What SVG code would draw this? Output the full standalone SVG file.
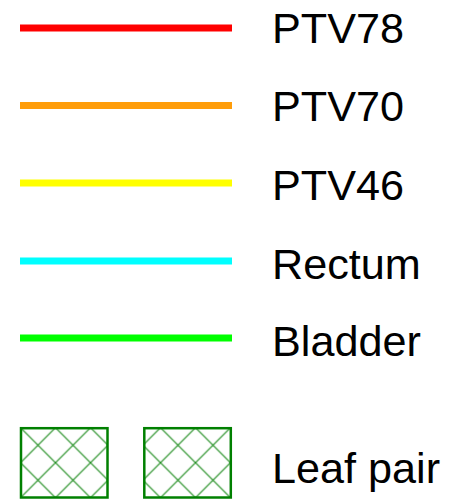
<svg xmlns="http://www.w3.org/2000/svg" width="465" height="499" viewBox="0 0 465 499">
<style>
text{font-family:"Liberation Sans",Arial,sans-serif;font-size:43.2px;fill:#000}
.ln{stroke-width:7;fill:none}
.box{fill:url(#hatch);stroke:#008000;stroke-width:2.5}
</style>
<defs>
<pattern id="hatch" patternUnits="userSpaceOnUse" x="20.5" y="427.7" width="35" height="35">
<path d="M0 0L35 35M35 0L0 35M-5 30L5 40M30 -5L40 5M-5 5L5 -5M30 40L40 30" stroke="#1e8c1e" stroke-width="1.2" fill="none"/>
</pattern>
</defs>
<rect width="465" height="499" fill="#fff"/>
<g id="connectors">
<line id="l-ptv78" class="ln" x1="20" y1="28" x2="232" y2="28" stroke="#ff0000"/>
<line id="l-ptv70" class="ln" x1="20" y1="105.5" x2="232" y2="105.5" stroke="#ff9d0a"/>
<line id="l-ptv46" class="ln" x1="20" y1="183" x2="232" y2="183" stroke="#ffff00"/>
<line id="l-rectum" class="ln" x1="20" y1="261" x2="232" y2="261" stroke="#00ffff"/>
<line id="l-bladder" class="ln" x1="20" y1="338" x2="232" y2="338" stroke="#00ff00"/>
</g>
<g id="leaf1"><rect class="box" x="21" y="428.2" width="86.5" height="69.3"/></g>
<g id="leaf2"><rect class="box" x="144.3" y="428.2" width="86.5" height="69.3"/></g>
<g id="labels">
<text x="272" y="43.3">PTV78</text>
<text x="272" y="121.3">PTV70</text>
<text x="272" y="200">PTV46</text>
<text x="272" y="279">Rectum</text>
<text x="272" y="356">Bladder</text>
<text x="272" y="483.3">Leaf pair</text>
</g>
</svg>
